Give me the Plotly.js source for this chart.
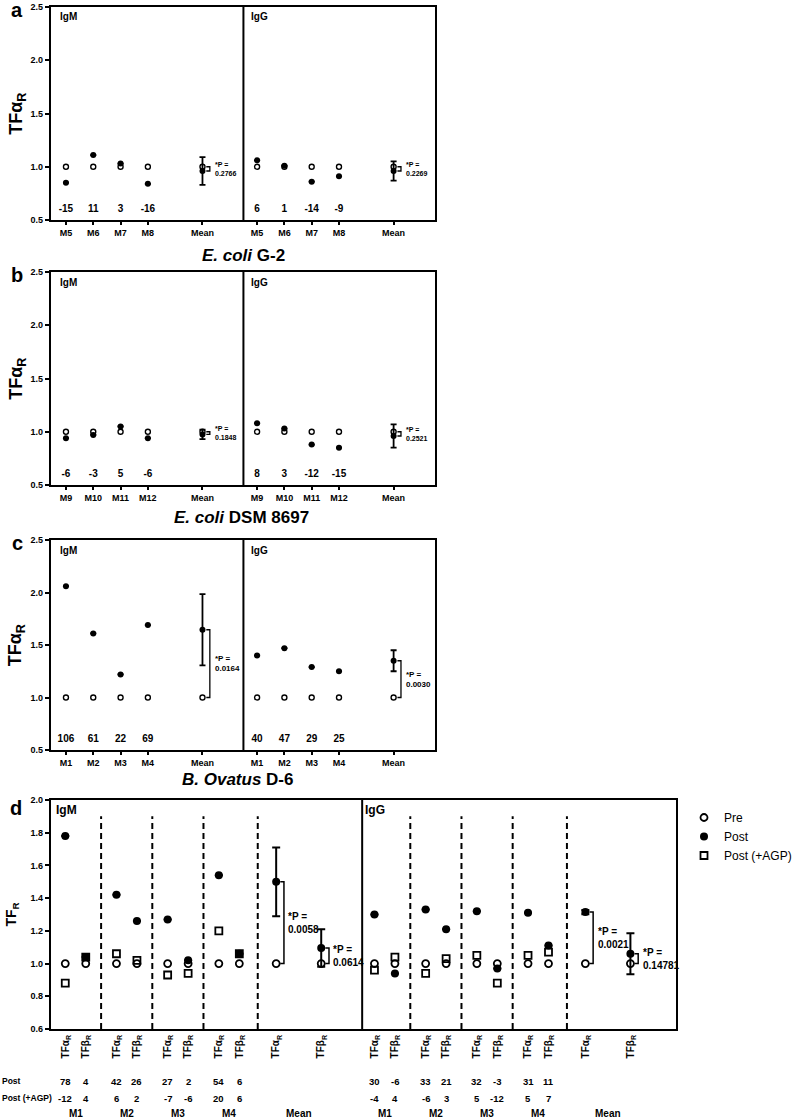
<!DOCTYPE html>
<html>
<head>
  <title>TF ratios pre / post</title>
<script src="https://cdn.jsdelivr.net/npm/plotly.js-dist@3.0.1/plotly.min.js"></script>
<style>body { margin: 0; }</style>
</head>
<body>
  <div id="graph"></div>
  <script>
    // ---- panel a : E. coli G-2 ----
    const aLabels = ['M5', 'M6', 'M7', 'M8', 'Mean'];
    const aPre = [1.0, 1.0, 1.0, 1.0, 1.0];
    const aIgMPost = [0.85, 1.11, 1.03, 0.84, 0.96];
    const aIgMSd = [null, null, null, null, 0.13];
    const aIgMPct = ['-15', '11', '3', '-16'];
    const aIgGPost = [1.06, 1.01, 0.86, 0.91, 0.96];
    const aIgGSd = [null, null, null, null, 0.09];
    const aIgGPct = ['6', '1', '-14', '-9'];
    const aPvals = ['0.2766', '0.2269'];

    // ---- panel b : E. coli DSM 8697 ----
    const bLabels = ['M9', 'M10', 'M11', 'M12', 'Mean'];
    const bPre = [1.0, 1.0, 1.0, 1.0, 1.0];
    const bIgMPost = [0.94, 0.97, 1.05, 0.94, 0.975];
    const bIgMSd = [null, null, null, null, 0.045];
    const bIgMPct = ['-6', '-3', '5', '-6'];
    const bIgGPost = [1.08, 1.03, 0.88, 0.85, 0.96];
    const bIgGSd = [null, null, null, null, 0.11];
    const bIgGPct = ['8', '3', '-12', '-15'];
    const bPvals = ['0.1848', '0.2521'];

    // ---- panel c : B. ovatus D-6 ----
    const cLabels = ['M1', 'M2', 'M3', 'M4', 'Mean'];
    const cPre = [1.0, 1.0, 1.0, 1.0, 1.0];
    const cIgMPost = [2.06, 1.61, 1.22, 1.69, 1.645];
    const cIgMSd = [null, null, null, null, 0.34];
    const cIgMPct = ['106', '61', '22', '69'];
    const cIgGPost = [1.40, 1.47, 1.29, 1.25, 1.35];
    const cIgGSd = [null, null, null, null, 0.10];
    const cIgGPct = ['40', '47', '29', '25'];
    const cPvals = ['0.0164', '0.0030'];

    // ---- panel d : TFa / TFb, with and without AGP ----
    const dTickText = ['TFα<sub>R</sub>', 'TFβ<sub>R</sub>', 'TFα<sub>R</sub>', 'TFβ<sub>R</sub>',
      'TFα<sub>R</sub>', 'TFβ<sub>R</sub>', 'TFα<sub>R</sub>', 'TFβ<sub>R</sub>',
      'TFα<sub>R</sub>', 'TFβ<sub>R</sub>'];
    const dGroups = ['M1', 'M2', 'M3', 'M4', 'Mean'];
    const dPre = [1.0, 1.0, 1.0, 1.0, 1.0, 1.0, 1.0, 1.0, 1.0, 1.0];
    const dIgMPost = [1.78, 1.04, 1.42, 1.26, 1.27, 1.02, 1.54, 1.06, 1.50, 1.095];
    const dIgMSd = [null, null, null, null, null, null, null, null, 0.21, 0.115];
    const dIgMAgp = [0.88, 1.04, 1.06, 1.02, 0.93, 0.94, 1.20, 1.06];
    const dIgGPost = [1.30, 0.94, 1.33, 1.21, 1.32, 0.97, 1.31, 1.11, 1.315, 1.06];
    const dIgGSd = [null, null, null, null, null, null, null, null, 0.013, 0.125];
    const dIgGAgp = [0.96, 1.04, 0.94, 1.03, 1.05, 0.88, 1.05, 1.07];
    const dIgMPostPct = ['78', '4', '42', '26', '27', '2', '54', '6'];
    const dIgMAgpPct = ['-12', '4', '6', '2', '-7', '-6', '20', '6'];
    const dIgGPostPct = ['30', '-6', '33', '21', '32', '-3', '31', '11'];
    const dIgGAgpPct = ['-4', '4', '-6', '3', '5', '-12', '5', '7'];
    const dPvals = [['0.0058', '0.0614'], ['0.0021', '0.14781']];

    // ---- layout helpers ----
    const W = 797, H = 1118;
    const FONT = 'Liberation Sans, Arial, sans-serif';
    const px = v => v / W;
    const py = v => 1 - v / H;
    const bold = (size) => ({ family: FONT, size: size, color: '#000', weight: 'bold' });

    const posM = [1, 2, 3, 4, 6];
    const posG = [8, 9, 10, 11, 13];
    const splitABC = 7.5;
    const dPosM = [1, 2, 3.5, 4.5, 6, 7, 8.5, 9.5, 11.3, 13.5];
    const dPosG = dPosM.map(v => v + 15.1);
    const splitD = 15.5;

    const traces = [];
    const shapes = [];
    const annotations = [];
    const layout = {
      width: W, height: H,
      margin: { l: 0, r: 0, t: 0, b: 0 },
      paper_bgcolor: '#fff', plot_bgcolor: '#fff',
      font: { family: FONT, color: '#000' },
      showlegend: true,
      legend: {
        x: px(712), y: py(803), xanchor: 'left', yanchor: 'top',
        font: { family: FONT, size: 12, color: '#000' },
        bgcolor: 'rgba(0,0,0,0)', itemwidth: 30, tracegroupgap: 0
      }
    };

    function yAxis(top, bottom, range, dtick, size, anchor) {
      return {
        domain: [py(bottom), py(top)], range: range, dtick: dtick, tick0: range[0],
        tickformat: '.1f', showline: true, mirror: true, linewidth: 2, linecolor: '#000',
        ticks: 'outside', ticklen: 4, tickwidth: 1.5, tickcolor: '#000',
        tickfont: bold(size), showgrid: false, zeroline: false, anchor: anchor
      };
    }

    function bracket(xa, ya, x, y1, y2, gap, reach, w) {
      return {
        type: 'path', xref: xa, yref: ya, layer: 'above',
        path: `M${x + gap},${y1} L${x + reach},${y1} L${x + reach},${y2} L${x + gap},${y2}`,
        line: { color: '#000', width: w }
      };
    }

    // ---- panels a, b, c ----
    const small = [
      { s: '', top: 7, bottom: 220, letter: 'a', labels: aLabels, pre: aPre,
        post: [aIgMPost, aIgGPost], sd: [aIgMSd, aIgGSd], pct: [aIgMPct, aIgGPct], p: aPvals,
        title: '<i>E. coli</i> G-2', tx: 253, ty: 255, pfont: 7 },
      { s: '2', top: 272, bottom: 485, letter: 'b', labels: bLabels, pre: bPre,
        post: [bIgMPost, bIgGPost], sd: [bIgMSd, bIgGSd], pct: [bIgMPct, bIgGPct], p: bPvals,
        title: '<i>E. coli</i> DSM 8697', tx: 251, ty: 517, pfont: 7 },
      { s: '3', top: 540, bottom: 750, letter: 'c', labels: cLabels, pre: cPre,
        post: [cIgMPost, cIgGPost], sd: [cIgMSd, cIgGSd], pct: [cIgMPct, cIgGPct], p: cPvals,
        title: '<i>B. Ovatus</i> D-6', tx: 247, ty: 779, pfont: 8 }
    ];

    small.forEach(pn => {
      const xa = 'x' + pn.s, ya = 'y' + pn.s;
      layout['xaxis' + pn.s] = {
        domain: [px(53), px(453)], range: [0.45, 14.53], anchor: ya,
        tickvals: posM.concat(posG), ticktext: pn.labels.concat(pn.labels),
        showline: true, mirror: true, linewidth: 2, linecolor: '#000',
        ticks: 'outside', ticklen: 3, tickwidth: 1.5, tickcolor: '#000',
        tickfont: bold(9), showgrid: false, zeroline: false
      };
      layout['yaxis' + pn.s] = yAxis(pn.top, pn.bottom, [0.5, 2.5], 0.5, 9, xa);

      const xs = posM.concat(posG);
      traces.push({
        x: xs, y: pn.pre.concat(pn.pre), xaxis: xa, yaxis: ya, mode: 'markers',
        type: 'scatter', showlegend: false, hoverinfo: 'skip',
        marker: { symbol: 'circle-open', size: 5, color: '#000', line: { width: 1.4, color: '#000' } }
      });
      traces.push({
        x: xs, y: pn.post[0].concat(pn.post[1]), xaxis: xa, yaxis: ya, mode: 'markers',
        type: 'scatter', showlegend: false, hoverinfo: 'skip',
        marker: { symbol: 'circle', size: 6, color: '#000' },
        error_y: { type: 'data', array: pn.sd[0].concat(pn.sd[1]), visible: true,
          color: '#000', thickness: 1.8, width: 3 }
      });
      traces.push({
        x: posM.slice(0, 4).concat(posG.slice(0, 4)),
        y: [0.6, 0.6, 0.6, 0.6, 0.6, 0.6, 0.6, 0.6],
        text: pn.pct[0].concat(pn.pct[1]), xaxis: xa, yaxis: ya, mode: 'text',
        type: 'scatter', showlegend: false, hoverinfo: 'skip', textfont: bold(10)
      });

      shapes.push({ type: 'line', xref: xa, yref: ya, x0: splitABC, x1: splitABC, y0: 0.5, y1: 2.5,
        line: { color: '#000', width: 2 } });

      [posM, posG].forEach((pos, h) => {
        const xm = pos[4];
        const yPost = pn.post[h][4], yPre = pn.pre[4];
        shapes.push(bracket(xa, ya, xm, yPost, yPre, 0.14, 0.27, 1.3));
        annotations.push({
          xref: xa, yref: ya, x: xm + 0.38, y: (yPost + yPre) / 2, xanchor: 'left', yanchor: 'middle',
          text: '*P =<br>' + pn.p[h], showarrow: false, align: 'left', font: bold(pn.pfont)
        });
        annotations.push({
          xref: xa, yref: ya, x: h === 0 ? 0.7 : splitABC + 0.2, y: 2.5, yshift: -10,
          xanchor: 'left', yanchor: 'middle', text: h === 0 ? 'IgM' : 'IgG',
          showarrow: false, font: bold(10)
        });
      });

      annotations.push({ xref: 'paper', yref: 'paper', x: px(18), y: py(pn.top + 3),
        xanchor: 'center', yanchor: 'middle', text: pn.letter, showarrow: false, font: bold(20) });
      annotations.push({ xref: 'paper', yref: 'paper', x: px(pn.tx), y: py(pn.ty),
        xanchor: 'center', yanchor: 'middle', text: pn.title, showarrow: false, font: bold(17) });
      annotations.push({ xref: 'paper', yref: 'paper', x: px(18), y: py((pn.top + pn.bottom) / 2),
        xanchor: 'center', yanchor: 'middle', textangle: -90, text: 'TFα<sub>R</sub>',
        showarrow: false, font: bold(18) });
    });

    // ---- panel d ----
    layout.xaxis4 = {
      domain: [px(53), px(703)], range: [0.3, 30.81], anchor: 'y4',
      tickvals: dPosM.concat(dPosG), ticktext: dTickText.concat(dTickText), tickangle: -90,
      showline: true, mirror: true, linewidth: 2, linecolor: '#000', ticks: '',
      tickfont: bold(10), showgrid: false, zeroline: false
    };
    layout.yaxis4 = yAxis(800, 1029, [0.6, 2.0], 0.2, 9, 'x4');

    const dX = dPosM.concat(dPosG);
    traces.push({
      name: 'Pre', legendrank: 1, x: dX, y: dPre.concat(dPre), xaxis: 'x4', yaxis: 'y4',
      mode: 'markers', type: 'scatter', hoverinfo: 'skip',
      marker: { symbol: 'circle-open', size: 7, color: '#000', line: { width: 1.8, color: '#000' } }
    });
    traces.push({
      name: 'Post (+AGP)', legendrank: 3,
      x: dPosM.slice(0, 8).concat(dPosG.slice(0, 8)), y: dIgMAgp.concat(dIgGAgp),
      xaxis: 'x4', yaxis: 'y4', mode: 'markers', type: 'scatter', hoverinfo: 'skip',
      marker: { symbol: 'square-open', size: 7, color: '#000', line: { width: 1.8, color: '#000' } }
    });
    traces.push({
      name: 'Post', legendrank: 2, x: dX, y: dIgMPost.concat(dIgGPost), xaxis: 'x4', yaxis: 'y4',
      mode: 'markers', type: 'scatter', hoverinfo: 'skip',
      marker: { symbol: 'circle', size: 8, color: '#000' },
      error_y: { type: 'data', array: dIgMSd.concat(dIgGSd), visible: true,
        color: '#000', thickness: 2, width: 4 }
    });

    shapes.push({ type: 'line', xref: 'x4', yref: 'y4', x0: splitD, x1: splitD, y0: 0.6, y1: 2.0,
      line: { color: '#000', width: 2 } });

    const halves = [
      { pos: dPosM, post: dIgMPost, postPct: dIgMPostPct, agpPct: dIgMAgpPct, p: dPvals[0], name: 'IgM' },
      { pos: dPosG, post: dIgGPost, postPct: dIgGPostPct, agpPct: dIgGAgpPct, p: dPvals[1], name: 'IgG' }
    ];
    halves.forEach((hv, h) => {
      for (let i = 0; i < 4; i++) {
        const xd = (hv.pos[2 * i + 1] + hv.pos[2 * i + 2]) / 2;
        shapes.push({ type: 'line', xref: 'x4', yref: 'y4', x0: xd, x1: xd, y0: 0.6, y1: 1.9,
          line: { color: '#000', width: 2, dash: '6px,4px' } });
      }
      [8, 9].forEach((k, j) => {
        shapes.push(bracket('x4', 'y4', hv.pos[k], hv.post[k], dPre[k], 0.2, 0.38, 1.5));
        annotations.push({
          xref: 'x4', yref: 'y4', x: hv.pos[k] + 0.5, y: (hv.post[k] + dPre[k]) / 2,
          xanchor: 'left', yanchor: 'middle', text: '*P =<br>' + hv.p[j], showarrow: false,
          align: 'left', font: bold(10)
        });
      });
      annotations.push({ xref: 'x4', yref: 'y4', x: hv.pos[0] - 0.55, y: 2.0, yshift: -10,
        xanchor: 'left', yanchor: 'middle', text: hv.name, showarrow: false, font: bold(12) });
      for (let i = 0; i < 8; i++) {
        annotations.push({ xref: 'x4', yref: 'paper', x: hv.pos[i], y: py(1081), xanchor: 'center',
          yanchor: 'middle', text: hv.postPct[i], showarrow: false, font: bold(9.5) });
        annotations.push({ xref: 'x4', yref: 'paper', x: hv.pos[i], y: py(1098), xanchor: 'center',
          yanchor: 'middle', text: hv.agpPct[i], showarrow: false, font: bold(9.5) });
      }
      dGroups.forEach((g, i) => {
        annotations.push({ xref: 'x4', yref: 'paper', x: (hv.pos[2 * i] + hv.pos[2 * i + 1]) / 2,
          y: py(1113), xanchor: 'center', yanchor: 'middle', text: g, showarrow: false, font: bold(10) });
      });
    });

    annotations.push({ xref: 'paper', yref: 'paper', x: 0, y: py(1081), xanchor: 'left',
      yanchor: 'middle', text: 'Post', showarrow: false, font: bold(8.5) });
    annotations.push({ xref: 'paper', yref: 'paper', x: 0, y: py(1098), xanchor: 'left',
      yanchor: 'middle', text: 'Post (+AGP)', showarrow: false, font: bold(8.5) });
    annotations.push({ xref: 'paper', yref: 'paper', x: px(17), y: py(808), xanchor: 'center',
      yanchor: 'middle', text: 'd', showarrow: false, font: bold(20) });
    annotations.push({ xref: 'paper', yref: 'paper', x: px(13), y: py(914), xanchor: 'center',
      yanchor: 'middle', textangle: -90, text: 'TF<sub>R</sub>', showarrow: false, font: bold(14) });

    layout.shapes = shapes;
    layout.annotations = annotations;

    Plotly.newPlot('graph', traces, layout, { displayModeBar: false });
  </script>
</body>
</html>
